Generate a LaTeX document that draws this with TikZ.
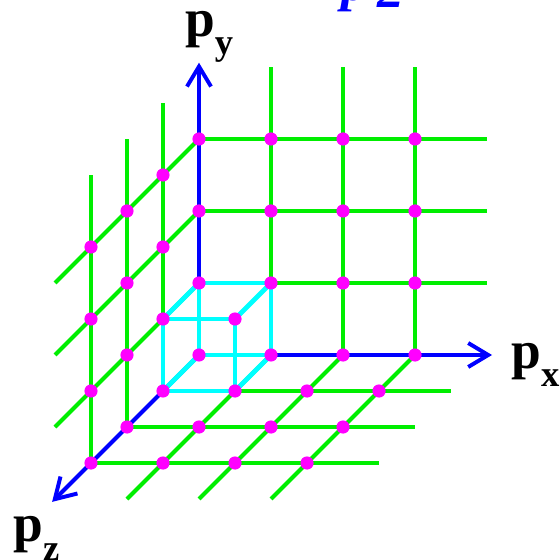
\documentclass[tikz,border=0pt]{standalone}
\usepackage{fontspec}
\setmainfont{Liberation Serif}
\usetikzlibrary{
  arrows.meta,
  positioning
}
\definecolor{gridgreen}{HTML}{00EE00}
\definecolor{axisblue}{HTML}{0000FF}
\definecolor{cubecyan}{HTML}{00FFFF}
\definecolor{dotpink}{HTML}{FF00FF}
\newcommand{\momlabel}[1]{p\raisebox{-13pt}{\fontsize{26}{28}\selectfont #1}}

\begin{document}
\begin{tikzpicture}[
    x={(1.8cm,0cm)}, y={(0cm,1.8cm)}, z={(-0.9cm,-0.9cm)},
    gridline/.style={draw=gridgreen, line width=2.8pt},
    axisline/.style={draw=axisblue, line width=2.8pt,
                     -{Straight Barb[length=0.5cm, width=0.6cm]}},
    cubeline/.style={draw=cubecyan, line width=3.3pt, line join=round},
    ldot/.style={fill=dotpink},
    plbl/.style={inner sep=0pt, anchor=base west,
                 font=\fontsize{38}{40}\selectfont\bfseries},
  ]
  \useasboundingbox[fill=white] (-4.975cm,-5.125cm) rectangle (9.025cm,8.875cm);

  % green lattice in the three planes
  \foreach \i in {1,2,3} {
    \draw[gridline] (0,\i,0) -- (4,\i,0);
    \draw[gridline] (\i,0,0) -- (\i,4,0);
    \draw[gridline] (0,0,\i) -- (0,4,\i);
    \draw[gridline] (0,\i,0) -- (0,\i,4);
    \draw[gridline] (0,0,\i) -- (4,0,\i);
    \draw[gridline] (\i,0,0) -- (\i,0,4);
  }

  % axes
  \coordinate (o) at (0,0,0);
  \coordinate (xend) at (4.07,0,0);
  \coordinate (yend) at (0,4.06,0);
  \coordinate (zend) at (0,0,4.08);
  \draw[axisline] (o) -- (xend);
  \draw[axisline] (o) -- (yend);
  \draw[axisline] (o) -- (zend);

  % unit cell
  \draw[cubeline] (0,0,0) -- (1,0,0) -- (1,1,0) -- (0,1,0) -- cycle;
  \draw[cubeline] (0,0,1) -- (1,0,1) -- (1,1,1) -- (0,1,1) -- cycle;
  \foreach \a/\b in {0/0,1/0,1/1,0/1}
    \draw[cubeline] (\a,\b,0) -- (\a,\b,1);

  % lattice points
  \foreach \i in {0,...,3}
    \foreach \j in {0,...,3}
      \fill[ldot] (\i,\j,0) circle (0.165cm);
  \foreach \k in {1,2,3} {
    \foreach \j in {0,...,3}
      \fill[ldot] (0,\j,\k) circle (0.165cm);
    \foreach \i in {1,2,3}
      \fill[ldot] (\i,0,\k) circle (0.165cm);
  }
  \fill[ldot] (1,1,1) circle (0.165cm);

  % labels
  \node[plbl] (px) at ([shift={(0.475cm,-0.325cm)}]xend) {\momlabel{x}};
  \node[plbl] (py) at ([shift={(-0.35cm,0.65cm)}]yend) {\momlabel{y}};
  \node[plbl] (pz) at ([shift={(-0.975cm,-1.0cm)}]zend) {\momlabel{z}};
  \node[plbl, text=axisblue, font=\fontsize{38}{40}\selectfont\bfseries\itshape]
    (p2) at (3.55cm,8.86cm) {p\hspace{7pt}\raisebox{-5pt}{2}};
\end{tikzpicture}
\end{document}
